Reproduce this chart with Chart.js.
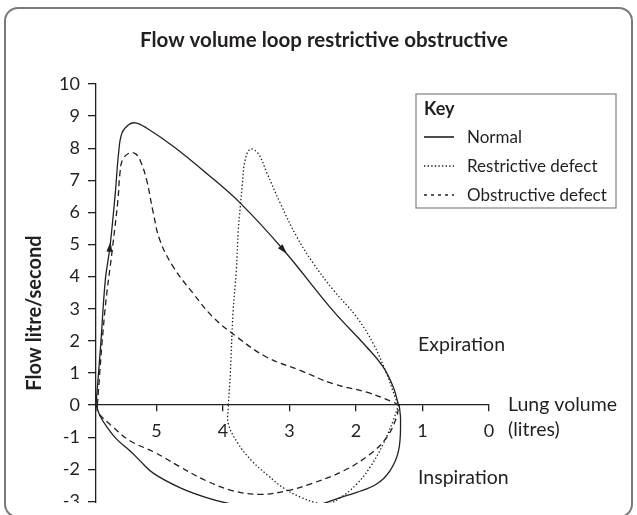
<!DOCTYPE html>
<html>
<head>
<meta charset="utf-8">
<script src="https://cdn.jsdelivr.net/npm/chart.js@4.4.1/dist/chart.umd.min.js"></script>
<style>
  html, body { margin: 0; padding: 0; background: #fff; }
  #wrap { position: relative; width: 637px; height: 515px; overflow: hidden; }
  #flow_chart { position: absolute; left: 0; top: 0; }
  #frame {
    position: absolute; left: 4px; top: 7px; width: 629px; height: 511px;
    box-sizing: border-box; border: 2px solid #7a7a7a; border-radius: 14px;
    pointer-events: none;
  }
</style>
</head>
<body>
<div id="wrap">
  <canvas id="flow_chart" width="637" height="503"></canvas>
  <div id="frame"></div>
</div>
<script>
// Values: lung volume (litres) and flow (litre/second)
const normalExpVol  = [5.91, 5.84, 5.77, 5.70, 5.62, 5.57, 5.52, 5.42, 5.32, 5.15, 4.75, 4.25, 3.74, 3.09, 2.35, 1.84, 1.59, 1.44, 1.36];
const normalExpFlow = [0, 1.86, 3.89, 4.93, 6.60, 7.85, 8.47, 8.73, 8.79, 8.63, 8.06, 7.22, 6.29, 4.83, 2.95, 1.81, 1.18, 0.56, 0];
const normalInspVol  = [5.91, 5.85, 5.75, 5.60, 5.40, 5.25, 5.05, 4.65, 4.25, 3.85, 3.20, 2.54, 2.24, 1.99, 1.69, 1.49, 1.36, 1.33, 1.35];
const normalInspFlow = [0, -0.33, -0.67, -1.06, -1.42, -1.73, -2.12, -2.57, -2.88, -3.09, -3.27, -3.09, -2.88, -2.72, -2.46, -2.05, -1.42, -0.48, 0];

const restrictExpVol  = [3.92, 3.89, 3.85, 3.80, 3.77, 3.74, 3.71, 3.67, 3.59, 3.47, 3.34, 3.14, 2.89, 2.64, 2.34, 1.99, 1.74, 1.54, 1.41, 1.36];
const restrictExpFlow = [0, 0.98, 2.86, 4.20, 5.46, 6.18, 6.86, 7.60, 7.97, 7.83, 7.23, 6.29, 5.24, 4.41, 3.58, 2.74, 1.91, 0.98, 0.24, 0];
const restrictInspVol  = [3.92, 3.92, 3.77, 3.57, 3.32, 3.07, 2.84, 2.62, 2.44, 2.24, 1.99, 1.79, 1.59, 1.44, 1.36];
const restrictInspFlow = [0, -0.58, -1.21, -1.73, -2.20, -2.61, -2.86, -3.03, -3.09, -2.89, -2.46, -1.94, -1.21, -0.48, 0];

const obstructExpVol  = [5.89, 5.78, 5.66, 5.58, 5.55, 5.51, 5.41, 5.32, 5.25, 5.15, 5.05, 4.95, 4.75, 4.45, 4.15, 3.79, 3.34, 2.84, 2.34, 1.84, 1.44, 1.36];
const obstructExpFlow = [0, 2.85, 4.93, 6.39, 7.22, 7.64, 7.85, 7.83, 7.64, 7.02, 6.00, 5.14, 4.31, 3.48, 2.74, 2.12, 1.49, 1.08, 0.66, 0.40, 0.09, 0];
const obstructInspVol  = [5.89, 5.88, 5.65, 5.40, 5.02, 4.65, 4.25, 3.85, 3.44, 3.04, 2.69, 2.19, 1.79, 1.54, 1.39, 1.36];
const obstructInspFlow = [0, -0.23, -0.69, -1.11, -1.48, -1.92, -2.36, -2.67, -2.78, -2.67, -2.46, -2.05, -1.53, -1.01, -0.38, 0];

const volumeTicks = [0, 1, 2, 3, 4, 5];
const flowTicks = [-3, -2, -1, 0, 1, 2, 3, 4, 5, 6, 7, 8, 9, 10];
const seriesNames = ['Normal', 'Restrictive defect', 'Obstructive defect'];
const arrowIndexes = [3, 13]; // points on the normal expiration curve that carry arrows

const chartTitle = 'Flow volume loop restrictive obstructive';
const yTitle = 'Flow litre/second';
const xTitle = ['Lung volume', '(litres)'];

const ink = '#231f20';
const dashes = [[], [1.4, 2.2], [6, 4]];

function pts(vol, flow) {
    return vol.map((v, i) => ({ x: v, y: flow[i] }));
}

function curve(vol, flow, style) {
    return {
        data: pts(vol, flow),
        showLine: true,
        borderColor: ink,
        borderWidth: 1.3,
        borderDash: dashes[style],
        pointRadius: 0,
        tension: 0.4,
        fill: false
    };
}

// title, axis notes, arrows and the key box
const annotate = {
    id: 'annotate',
    afterDraw(chart) {
        const ctx = chart.ctx;
        const xs = chart.scales.x, ys = chart.scales.y;
        ctx.save();
        ctx.fillStyle = ink;
        ctx.textBaseline = 'alphabetic';

        ctx.font = 'bold 20.5px Lato';
        ctx.textAlign = 'center';
        ctx.fillText(chartTitle, 324, 47);

        ctx.font = 'bold 20px Lato';
        ctx.save();
        ctx.translate(41, 313);
        ctx.rotate(-Math.PI / 2);
        ctx.fillText(yTitle, 0, 0);
        ctx.restore();

        const x0 = xs.getPixelForValue(0), y0 = ys.getPixelForValue(0);
        ctx.font = '19.5px Lato';
        ctx.textAlign = 'left';
        ctx.fillText(xTitle[0], x0 + 19, y0 + 6);
        ctx.fillText(xTitle[1], x0 + 19, y0 + 31);
        ctx.fillText('Expiration', 418, 351);
        ctx.fillText('Inspiration', 418, 484);

        // arrow heads along the normal loop
        const line = chart.data.datasets[0].data;
        arrowIndexes.forEach(i => {
            const a = line[i - 1], b = line[i], c = line[i + 1];
            const px = xs.getPixelForValue(b.x), py = ys.getPixelForValue(b.y);
            const dx = xs.getPixelForValue(c.x) - xs.getPixelForValue(a.x);
            const dy = ys.getPixelForValue(c.y) - ys.getPixelForValue(a.y);
            const ang = Math.atan2(dy, dx);
            ctx.save();
            ctx.translate(px, py);
            ctx.rotate(ang);
            ctx.beginPath();
            ctx.moveTo(5, 0);
            ctx.lineTo(-5, -3);
            ctx.lineTo(-5, 3);
            ctx.closePath();
            ctx.fill();
            ctx.restore();
        });

        // key
        ctx.strokeStyle = '#8a8a8a';
        ctx.lineWidth = 1.3;
        ctx.strokeRect(416, 94, 200, 114);
        ctx.font = 'bold 18px Lato';
        ctx.fillText('Key', 424, 115);
        ctx.font = '17px Lato';
        const rowY = [143, 172, 201];
        seriesNames.forEach((name, i) => {
            ctx.fillText(name, 467, rowY[i]);
            ctx.beginPath();
            ctx.strokeStyle = ink;
            ctx.lineWidth = i === 0 ? 1.6 : 1.3;
            ctx.setLineDash(i === 2 ? [3, 4] : dashes[i]);
            ctx.moveTo(424, rowY[i] - 6);
            ctx.lineTo(454, rowY[i] - 6);
            ctx.stroke();
        });
        ctx.setLineDash([]);
        ctx.restore();
    }
};

let flowChart = null;

function initializeChart() {
    const ctx = document.getElementById('flow_chart').getContext('2d');

    flowChart = new Chart(ctx, {
        type: 'scatter',
        data: {
            datasets: [
                curve(normalExpVol, normalExpFlow, 0),
                curve(normalInspVol, normalInspFlow, 0),
                curve(restrictExpVol, restrictExpFlow, 1),
                curve(restrictInspVol, restrictInspFlow, 1),
                curve(obstructExpVol, obstructExpFlow, 2),
                curve(obstructInspVol, obstructInspFlow, 2)
            ]
        },
        options: {
            responsive: false,
            animation: false,
            layout: { padding: { left: 0, right: 148, top: 84, bottom: 0 } },
            plugins: {
                legend: { display: false },
                tooltip: { enabled: false }
            },
            scales: {
                x: {
                    type: 'linear',
                    reverse: true,
                    min: 0,
                    max: 5.91,
                    position: { y: 0 },
                    afterBuildTicks: s => { s.ticks = volumeTicks.map(v => ({ value: v })); },
                    afterFit: s => { s.height = 0; s.paddingLeft = 0; s.paddingRight = 0; },
                    grid: { drawOnChartArea: false, drawTicks: true, tickLength: 6, color: ink, lineWidth: 1.3 },
                    border: { color: ink, width: 1.3 },
                    ticks: { color: ink, font: { family: 'Lato', size: 18 }, padding: 9, maxRotation: 0 }
                },
                y: {
                    type: 'linear',
                    min: -3.05,
                    max: 10,
                    position: 'left',
                    afterBuildTicks: s => { s.ticks = flowTicks.map(v => ({ value: v })); },
                    // the bottom label runs off the frame, so no room is kept for it
                    afterFit: s => { s.width = 96; s.paddingTop = 0; s.paddingBottom = 0; },
                    grid: { drawOnChartArea: false, drawTicks: true, tickLength: 8, color: ink, lineWidth: 1.3 },
                    border: { color: ink, width: 1.3 },
                    ticks: { color: ink, font: { family: 'Lato', size: 18 }, padding: 8 }
                }
            }
        },
        plugins: [annotate]
    });
}

document.addEventListener('DOMContentLoaded', initializeChart);
</script>
</body>
</html>
